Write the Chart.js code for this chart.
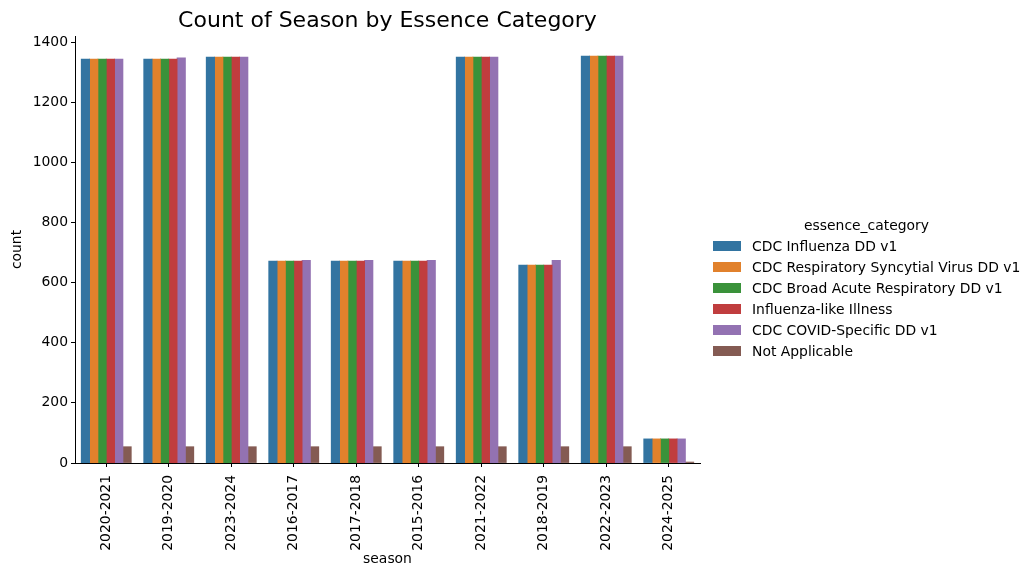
<!DOCTYPE html>
<html lang="en">
<head>
  <meta charset="UTF-8" />
  <title>Count of Season by Essence Category</title>
  <script src="https://cdn.jsdelivr.net/npm/chart.js"></script>
  <style>
    html, body { margin: 0; padding: 0; background: #fff; }
    #wrap { position: relative; width: 1033px; height: 578px; font-family: "DejaVu Sans", sans-serif; color: #000; }
    #grafico { position: absolute; left: 0; top: 0; }
    .leyenda-titulo { position: absolute; left: 713px; width: 307px; top: 217px; font-size: 13.9px; line-height: 16px; text-align: center; }
    .leyenda-item { position: absolute; left: 713px; height: 16px; font-size: 13.9px; line-height: 16px; white-space: nowrap; }
    .leyenda-item .caja { position: absolute; left: 0; top: 3px; width: 28px; height: 10px; }
    .leyenda-item .texto { position: absolute; left: 39px; top: 0; }
  </style>
</head>
<body>
<div id="wrap">
  <canvas id="grafico" width="1033" height="578"></canvas>
  <div id="leyenda"></div>
</div>

<script>
const seasons = ['2020-2021', '2019-2020', '2023-2024', '2016-2017', '2017-2018',
                 '2015-2016', '2021-2022', '2018-2019', '2022-2023', '2024-2025'];
const categories = ['CDC Influenza DD v1', 'CDC Respiratory Syncytial Virus DD v1',
                    'CDC Broad Acute Respiratory DD v1', 'Influenza-like Illness',
                    'CDC COVID-Specific DD v1', 'Not Applicable'];
const influenza     = [1343, 1343, 1350, 671, 671, 671, 1350, 658, 1353, 80];
const rsv           = [1343, 1343, 1350, 671, 671, 671, 1350, 658, 1353, 80];
const broadAcute    = [1343, 1343, 1350, 671, 671, 671, 1350, 658, 1353, 80];
const ili           = [1343, 1343, 1350, 671, 671, 671, 1350, 658, 1353, 80];
const covid         = [1343, 1347, 1350, 674, 674, 674, 1350, 674, 1353, 80];
const notApplicable = [54, 54, 54, 54, 54, 54, 54, 54, 54, 3];
const yTicks = [0, 200, 400, 600, 800, 1000, 1200, 1400];

const series = [influenza, rsv, broadAcute, ili, covid, notApplicable];
const colores = ['#3274a1', '#e1812c', '#3a923a', '#c03d3e', '#9372b2', '#845b53'];

// leyenda a la derecha, como la de seaborn
const leyenda = document.getElementById('leyenda');
const tit = document.createElement('div');
tit.className = 'leyenda-titulo';
tit.textContent = 'essence_category';
leyenda.appendChild(tit);
categories.forEach((nombre, i) => {
  const item = document.createElement('div');
  item.className = 'leyenda-item';
  item.style.top = (238 + i * 20.9) + 'px';
  item.innerHTML = `<span class="caja" style="background:${colores[i]}"></span><span class="texto">${nombre}</span>`;
  leyenda.appendChild(item);
});

const fuente = { family: '"DejaVu Sans", sans-serif', size: 13.9 };

new Chart(document.getElementById('grafico'), {
  type: 'bar',
  data: {
    labels: seasons,
    datasets: categories.map((nombre, i) => ({
      label: nombre,
      data: series[i],
      backgroundColor: colores[i],
      borderWidth: 0,
      inflateAmount: 0.4,
      categoryPercentage: 0.8,
      barPercentage: 1.0
    }))
  },
  options: {
    responsive: false,
    animation: false,
    devicePixelRatio: 1,
    layout: { padding: { left: 5, right: 333, top: 0, bottom: 6 } },
    plugins: {
      legend: { display: false },
      tooltip: { enabled: false },
      title: {
        display: true,
        fullSize: false,
        text: 'Count of Season by Essence Category',
        color: '#000',
        font: { family: '"DejaVu Sans", sans-serif', size: 22, weight: 'normal', lineHeight: 1.2 },
        padding: { top: 8, bottom: 1.6 }
      }
    },
    scales: {
      x: {
        offset: true,
        grid: { display: true, drawOnChartArea: false, drawTicks: true, tickLength: 4, color: '#000', offset: false },
        border: { display: true, color: '#000', width: 1 },
        ticks: { color: '#000', font: fuente, minRotation: 90, maxRotation: 90, autoSkip: false, padding: 8 },
        title: { display: true, text: 'season', color: '#000', font: fuente, padding: { top: 4, bottom: 4 } },
        afterFit: (scale) => { scale.height = 109; }
      },
      y: {
        min: 0,
        max: 1420,
        grid: { display: true, drawOnChartArea: false, drawTicks: true, tickLength: 4, color: '#000' },
        border: { display: true, color: '#000', width: 1 },
        ticks: { color: '#000', font: fuente, stepSize: 200, includeBounds: false, padding: 3,
                 callback: (v) => String(v) },
        afterBuildTicks: (scale) => { scale.ticks = yTicks.map(v => ({ value: v })); },
        title: { display: true, text: 'count', color: '#000', font: fuente, padding: { top: 4, bottom: 4 } },
        afterFit: (scale) => { scale.width = 70; }
      }
    }
  }
});
</script>
</body>
</html>
